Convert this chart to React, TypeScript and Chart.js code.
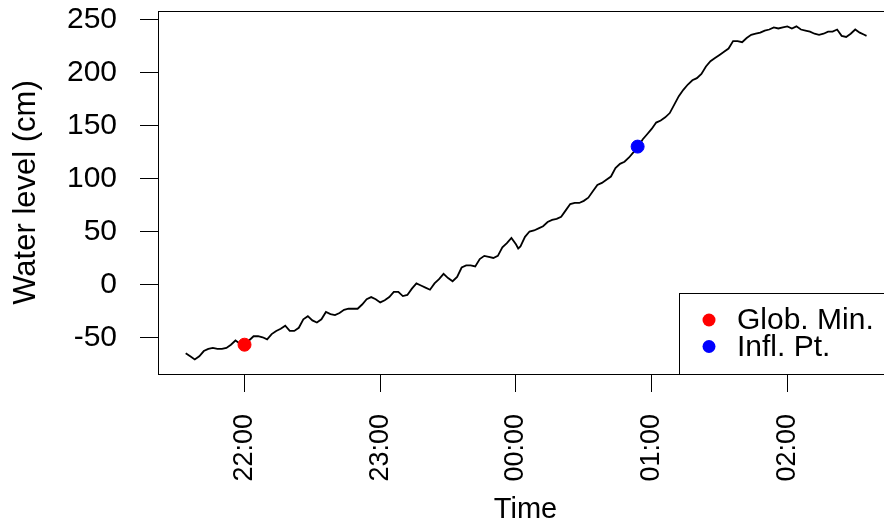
import React, { useEffect, useRef } from "react";
import { Chart, registerables } from "chart.js";

Chart.register(...registerables);

// Minutes relative to 00:00 (negative = before midnight)
const timeMinutes: number[] = [
  -146, -144, -142, -140, -138, -136, -134, -132, -130, -128, -126, -124, -122, -120,
  -118, -116, -114, -112, -110, -108, -106, -104, -102, -100, -98, -96, -94, -92, -90,
  -88, -86, -84, -82, -80, -78, -76, -74, -72, -70, -68, -66, -64, -62, -60, -58, -56,
  -54, -52, -50, -48, -46, -44, -42, -40, -38, -36, -34, -32, -30, -28, -26, -24, -22,
  -20, -18, -16, -14, -12, -10, -8, -6, -4, -2, 0, 1, 2, 4, 6, 8, 10, 12, 14, 16, 18,
  20, 22, 24, 26, 28, 30, 32, 34, 36, 38, 40, 42, 44, 46, 48, 50, 52, 54, 56, 58, 60,
  62, 64, 66, 68, 70, 72, 74, 76, 78, 80, 82, 84, 86, 88, 90, 92, 94, 96, 98, 100, 102,
  104, 106, 108, 110, 112, 114, 116, 118, 120, 122, 124, 126, 128, 130, 132, 134, 136,
  138, 140, 142, 144, 146, 148, 150, 152, 154, 155,
];

const waterLevel: number[] = [
  -65, -68, -71, -68, -63, -61, -60, -61, -61, -60, -57, -53, -56, -57,
  -53, -49, -49, -50, -52, -47, -44, -42, -39, -44, -44, -41, -33, -30, -34,
  -36, -33, -26, -28, -29, -27, -24, -23, -23, -23, -19, -14, -12, -14, -17, -15, -12,
  -7, -7, -11, -10, -4, 1, -1, -3, -5, 1, 5, 10, 6, 3, 7, 16, 18,
  18, 17, 24, 27, 26, 25, 27, 35, 39, 44, 38, 34, 36, 45, 50, 51, 53, 55, 59, 61, 62,
  64, 70, 76, 77, 77, 79, 82, 88, 94, 96, 99, 102, 110, 114, 116, 120, 125, 130, 137, 142, 147,
  153, 155, 158, 162, 170, 178, 184, 189, 193, 195, 199, 206, 211, 214, 217, 220, 223, 230, 230, 229, 233,
  236, 237, 238, 240, 241, 243, 242, 243, 244, 242, 244, 241, 240, 239, 237, 236, 237,
  239, 239, 241, 235, 234, 237, 241, 238, 236, 235,
];

const globMinTime = [-120];
const globMinLevel = [-57];
const inflTime = [53.8];
const inflLevel = [130.3];

const xTickValues = [-120, -60, 0, 60, 120];
const xTickLabels = ["22:00", "23:00", "00:00", "01:00", "02:00"];
const yTickValues = [-50, 0, 50, 100, 150, 200, 250];

const FONT = '"Liberation Sans", Arial, sans-serif';
const FS = 30;

const boxPlugin = {
  id: "boxAndLegend",
  afterDraw(chart: any) {
    const { ctx, chartArea } = chart;
    ctx.save();
    ctx.strokeStyle = "#000";
    ctx.lineWidth = 1;
    ctx.strokeRect(
      Math.round(chartArea.left) + 0.5,
      Math.round(chartArea.top) + 0.5,
      Math.round(chartArea.right - chartArea.left),
      Math.round(chartArea.bottom - chartArea.top)
    );
    // legend
    const lx = 679.5;
    const ly = 293.5;
    const lw = chart.width - lx + 20;
    const lh = Math.round(chartArea.bottom) - ly + 0.5;
    ctx.fillStyle = "#fff";
    ctx.fillRect(lx, ly, lw, lh);
    ctx.strokeRect(lx, ly, lw, lh);
    const entries = chart.data.datasets.filter((d: any) => d.legendEntry);
    entries.forEach((d: any, i: number) => {
      const cy = 320 + i * 26.5;
      ctx.beginPath();
      ctx.fillStyle = d.backgroundColor;
      ctx.arc(709, cy, 6.5, 0, Math.PI * 2);
      ctx.fill();
      ctx.fillStyle = "#000";
      ctx.font = `${FS}px ${FONT}`;
      ctx.textBaseline = "middle";
      ctx.textAlign = "left";
      ctx.fillText(d.label, 737, cy + 1);
    });
    ctx.restore();
  },
};

export default function App() {
  const ref = useRef<HTMLCanvasElement>(null);
  useEffect(() => {
    if (!ref.current) return;
    const lineData = timeMinutes.map((t, i) => ({ x: t, y: waterLevel[i] }));
    const chart = new Chart(ref.current, {
      type: "scatter",
      data: {
        datasets: [
          {
            label: "Glob. Min.",
            data: globMinTime.map((t, i) => ({ x: t, y: globMinLevel[i] })),
            backgroundColor: "#ff0000",
            borderColor: "#ff0000",
            pointRadius: 6.5,
            order: 0,
            legendEntry: true,
          } as any,
          {
            label: "Infl. Pt.",
            data: inflTime.map((t, i) => ({ x: t, y: inflLevel[i] })),
            backgroundColor: "#0000ff",
            borderColor: "#0000ff",
            pointRadius: 6.5,
            order: 0,
            legendEntry: true,
          } as any,
          {
            label: "Water level",
            data: lineData,
            showLine: true,
            borderColor: "#000",
            borderWidth: 1.8,
            pointRadius: 0,
            tension: 0,
            order: 1,
          } as any,
        ],
      },
      options: {
        animation: false,
        responsive: false,
        devicePixelRatio: 1,
        layout: { padding: { top: 11, right: 17, left: 0, bottom: 0 } },
        plugins: { legend: { display: false }, tooltip: { enabled: false } },
        scales: {
          x: {
            type: "linear",
            min: -158.25,
            max: 166.7,
            border: { display: false },
            grid: { drawOnChartArea: false, drawTicks: true, tickLength: 18, color: "#000" },
            ticks: {
              autoSkip: false,
              minRotation: 90,
              maxRotation: 90,
              padding: 22,
              color: "#000",
              font: { family: FONT, size: 27 },
              callback: (v: any) => {
                const i = xTickValues.indexOf(Number(v));
                return i >= 0 ? xTickLabels[i] : "";
              },
            },
            afterBuildTicks: (s: any) => {
              s.ticks = xTickValues.map((v) => ({ value: v }));
            },
            afterFit: (s: any) => {
              s.height = 156;
              s.paddingLeft = 0;
              s.paddingRight = 0;
            },
            title: {
              display: true,
              text: "Time",
              color: "#000",
              font: { family: FONT, size: 29, lineHeight: 1.2 },
              padding: { top: 0, bottom: 3 },
            },
          },
          y: {
            type: "linear",
            min: -84.7,
            max: 258.5,
            border: { display: false },
            grid: { drawOnChartArea: false, drawTicks: true, tickLength: 18, color: "#000" },
            ticks: {
              padding: 23,
              color: "#000",
              font: { family: FONT, size: FS },
            },
            afterBuildTicks: (s: any) => {
              s.ticks = yTickValues.map((v) => ({ value: v }));
            },
            afterFit: (s: any) => {
              s.width = 158;
              s.paddingTop = 0;
              s.paddingBottom = 0;
            },
            title: {
              display: true,
              text: "Water level (cm)",
              color: "#000",
              font: { family: FONT, size: 31, lineHeight: 1.2 },
              padding: { top: 8, bottom: 0 },
            },
          },
        },
      },
      plugins: [boxPlugin],
    });
    return () => chart.destroy();
  }, []);

  return (
    <div style={{ position: "fixed", left: 0, top: 0, width: 884, height: 530, overflow: "hidden", background: "#fff" }}>
      <canvas ref={ref} width={910} height={530} style={{ width: 910, height: 530, display: "block" }} />
    </div>
  );
}
